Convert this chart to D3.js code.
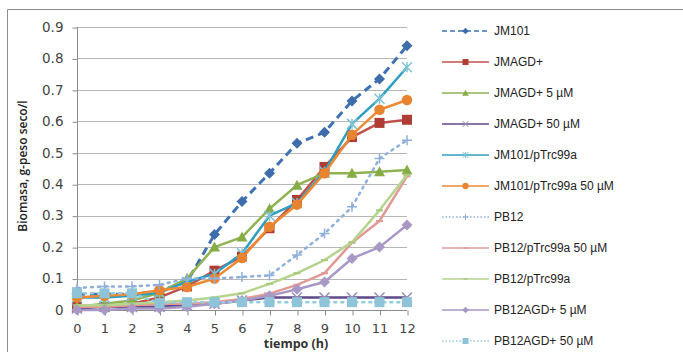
<!DOCTYPE html>
<html><head><meta charset="utf-8">
<script src="https://cdn.jsdelivr.net/npm/d3@7"></script>
<style>
html,body{margin:0;padding:0;background:#fff;}
svg{display:block;}
</style></head>
<body>
<svg id="chart" width="683" height="352"></svg>
<script>
const times = [0,1,2,3,4,5,6,7,8,9,10,11,12];
const yTicks = [0,0.1,0.2,0.3,0.4,0.5,0.6,0.7,0.8,0.9];
const seriesNames = ["JM101","JMAGD+","JMAGD+ 5 µM","JMAGD+ 50 µM","JM101/pTrc99a","JM101/pTrc99a 50 µM","PB12","PB12/pTrc99a 50 µM","PB12/pTrc99a","PB12AGD+ 5 µM","PB12AGD+ 50 µM"];
const jm101        = [0.05,0.05,0.05,0.06,0.09,0.24,0.345,0.435,0.53,0.565,0.665,0.735,0.84];
const jmagd        = [0.01,0.01,0.02,0.04,0.075,0.125,0.17,0.26,0.35,0.455,0.55,0.595,0.605];
const jmagd5       = [0.01,0.02,0.03,0.055,0.1,0.2,0.232,0.322,0.397,0.435,0.435,0.44,0.445];
const jmagd50      = [0.005,0.01,0.01,0.01,0.015,0.02,0.03,0.04,0.04,0.04,0.04,0.04,0.04];
const jm101pTrc    = [0.04,0.04,0.045,0.055,0.09,0.115,0.18,0.3,0.34,0.44,0.592,0.672,0.772];
const jm101pTrc50  = [0.04,0.045,0.05,0.063,0.073,0.1,0.165,0.265,0.335,0.435,0.557,0.637,0.668];
const pb12         = [0.07,0.075,0.075,0.08,0.1,0.1,0.105,0.11,0.175,0.243,0.328,0.482,0.54];
const pb12pTrc50   = [0.01,0.01,0.015,0.02,0.02,0.025,0.035,0.052,0.08,0.117,0.214,0.283,0.425];
const pb12pTrc     = [0.015,0.015,0.02,0.025,0.03,0.04,0.053,0.083,0.117,0.159,0.216,0.317,0.43];
const pb12agd5     = [0.0,0.0,0.005,0.005,0.01,0.02,0.03,0.045,0.066,0.089,0.164,0.2,0.27];
const pb12agd50    = [0.053,0.053,0.053,0.022,0.025,0.025,0.025,0.025,0.025,0.025,0.025,0.025,0.025];

const seriesValues = [jm101,jmagd,jmagd5,jmagd50,jm101pTrc,jm101pTrc50,pb12,pb12pTrc50,pb12pTrc,pb12agd5,pb12agd50];
const styles = [
  {line:"#3f72b3", mark:"#3d6eab", dash:"8,5", w:3, m:"diamond"},
  {line:"#c0504d", mark:"#b03d35", dash:null, w:2.5, m:"square"},
  {line:"#8fb350", mark:"#86ad45", dash:null, w:2.5, m:"triangle"},
  {line:"#5e4a88", mark:"#9b8ab8", dash:null, w:2.5, m:"x"},
  {line:"#2e9ec0", mark:"#7fc3d6", dash:null, w:2.5, m:"star"},
  {line:"#ed8a35", mark:"#e8832f", dash:null, w:2.5, m:"circle"},
  {line:"#8eaedc", mark:"#8eaedc", dash:"2,5", w:2.5, m:"plus", cap:"round"},
  {line:"#e09a96", mark:"#e09a96", dash:null, w:2.5, m:"dash"},
  {line:"#b6d48e", mark:"#a9cb7e", dash:null, w:2.5, m:"dash"},
  {line:"#a898c6", mark:"#a898c6", dash:null, w:2.5, m:"diamond"},
  {line:"#93cddd", mark:"#8fc4d8", dash:"2,5", w:2.5, m:"square", cap:"round"}
];

const svg = d3.select("#chart");
const font = "'DejaVu Sans', sans-serif";

// outer frame
svg.append("path").attr("d","M7.5,352 L7.5,9.5 L683,9.5").attr("fill","none").attr("stroke","#8c8c8c").attr("stroke-width",1);

const x = d3.scaleLinear().domain([0,12]).range([77,407]);
const y = d3.scaleLinear().domain([0,0.9]).range([310,27]);

// gridlines
svg.append("g").selectAll("line").data(yTicks.filter(d=>d>0)).join("line")
  .attr("x1",x(0)).attr("x2",x(12)).attr("y1",d=>Math.round(y(d))+0.5).attr("y2",d=>Math.round(y(d))+0.5)
  .attr("stroke","#b7b7b7").attr("stroke-width",1);

// y axis
const yAxis = d3.axisLeft(y).tickValues(yTicks).tickSize(5).tickPadding(9)
  .tickFormat(d=> d===0 ? "0" : d3.format(".1f")(d));
const gy = svg.append("g").attr("transform","translate(77.5,0)").call(yAxis);
gy.selectAll("line").attr("stroke","#8c8c8c").attr("transform","translate(0,0.5)");
gy.select(".domain").attr("stroke","#8c8c8c").attr("d","M0,"+y(0.9)+"V"+y(0));
gy.selectAll("text").attr("font-family",font).attr("font-size","13.5px").attr("fill","#444");

// x axis
const xAxis = d3.axisBottom(x).tickValues(times).tickSize(5).tickPadding(8).tickFormat(d3.format("d"));
const gx = svg.append("g").attr("transform","translate(0,310.5)").call(xAxis);
gx.selectAll("line").attr("stroke","#8c8c8c").attr("transform","translate(0.5,0)");
gx.select(".domain").attr("stroke","#8c8c8c").attr("d","M"+x(0)+",0H"+x(12));
gx.selectAll("text").attr("font-family",font).attr("font-size","13px").attr("fill","#444");

// axis titles
svg.append("text").attr("x",296).attr("y",347.5).attr("text-anchor","middle")
  .attr("font-family","'Open Sans', sans-serif").attr("font-weight","bold").attr("font-size","12.5px").attr("fill","#333")
  .text("tiempo  (h)");
svg.append("text").attr("transform","translate(27,166) rotate(-90)").attr("text-anchor","middle")
  .attr("font-family","'Open Sans', sans-serif").attr("font-weight","600").attr("font-size","12px").attr("fill","#222")
  .text("Biomasa, g-peso seco/l");

function drawMarker(g, type, cx, cy, s, col, lw){
  const h = s/2;
  if(type==="diamond"){
    g.append("path").attr("d",`M${cx},${cy-h*1.1}L${cx+h*1.1},${cy}L${cx},${cy+h*1.1}L${cx-h*1.1},${cy}Z`).attr("fill",col);
  } else if(type==="square"){
    g.append("rect").attr("x",cx-h).attr("y",cy-h).attr("width",s).attr("height",s).attr("fill",col);
  } else if(type==="triangle"){
    g.append("path").attr("d",`M${cx},${cy-h*1.1}L${cx+h*1.1},${cy+h*0.9}L${cx-h*1.1},${cy+h*0.9}Z`).attr("fill",col);
  } else if(type==="circle"){
    g.append("circle").attr("cx",cx).attr("cy",cy).attr("r",h*1.05).attr("fill",col);
  } else if(type==="x"){
    g.append("path").attr("d",`M${cx-h},${cy-h}L${cx+h},${cy+h}M${cx-h},${cy+h}L${cx+h},${cy-h}`).attr("stroke",col).attr("stroke-width",lw).attr("fill","none");
  } else if(type==="plus"){
    g.append("path").attr("d",`M${cx-h},${cy}L${cx+h},${cy}M${cx},${cy-h}L${cx},${cy+h}`).attr("stroke",col).attr("stroke-width",lw).attr("fill","none");
  } else if(type==="star"){
    g.append("path").attr("d",`M${cx-h},${cy-h}L${cx+h},${cy+h}M${cx-h},${cy+h}L${cx+h},${cy-h}M${cx},${cy-h}L${cx},${cy+h}`).attr("stroke",col).attr("stroke-width",lw).attr("fill","none");
  } else if(type==="dash"){
    g.append("path").attr("d",`M${cx-h*0.7},${cy}L${cx+h*0.7},${cy}`).attr("stroke",col).attr("stroke-width",lw*1.4).attr("fill","none");
  }
}

const line = d3.line().x((d,i)=>x(times[i])).y(d=>y(d));
const plot = svg.append("g");
seriesValues.forEach((vals,k)=>{
  const st = styles[k];
  const g = plot.append("g");
  g.append("path").attr("d",line(vals)).attr("fill","none").attr("stroke",st.line)
    .attr("stroke-width",st.w).attr("stroke-dasharray",st.dash).attr("stroke-linecap",st.cap||"butt").attr("stroke-linejoin","round");
  vals.forEach((v,i)=>drawMarker(g, st.m, x(times[i]), y(v), 10, st.mark, 1.5));
});

// legend
const legend = svg.append("g");
seriesNames.forEach((name,k)=>{
  const st = styles[k];
  const ly = 31 + k*31;
  const g = legend.append("g");
  g.append("line").attr("x1",442).attr("x2",489).attr("y1",ly).attr("y2",ly)
    .attr("stroke",st.line).attr("stroke-width",1.5)
    .attr("stroke-dasharray", st.dash ? (k===0?"5,3":"1.5,2") : null);
  drawMarker(g, st.m, 465.5, ly, 6, st.mark, 1);
  g.append("text").attr("x",494).attr("y",ly+4).attr("font-family","'Liberation Sans', Arial, sans-serif")
    .attr("font-size","12px").attr("fill","#222").text(name);
});
</script>
</body></html>
